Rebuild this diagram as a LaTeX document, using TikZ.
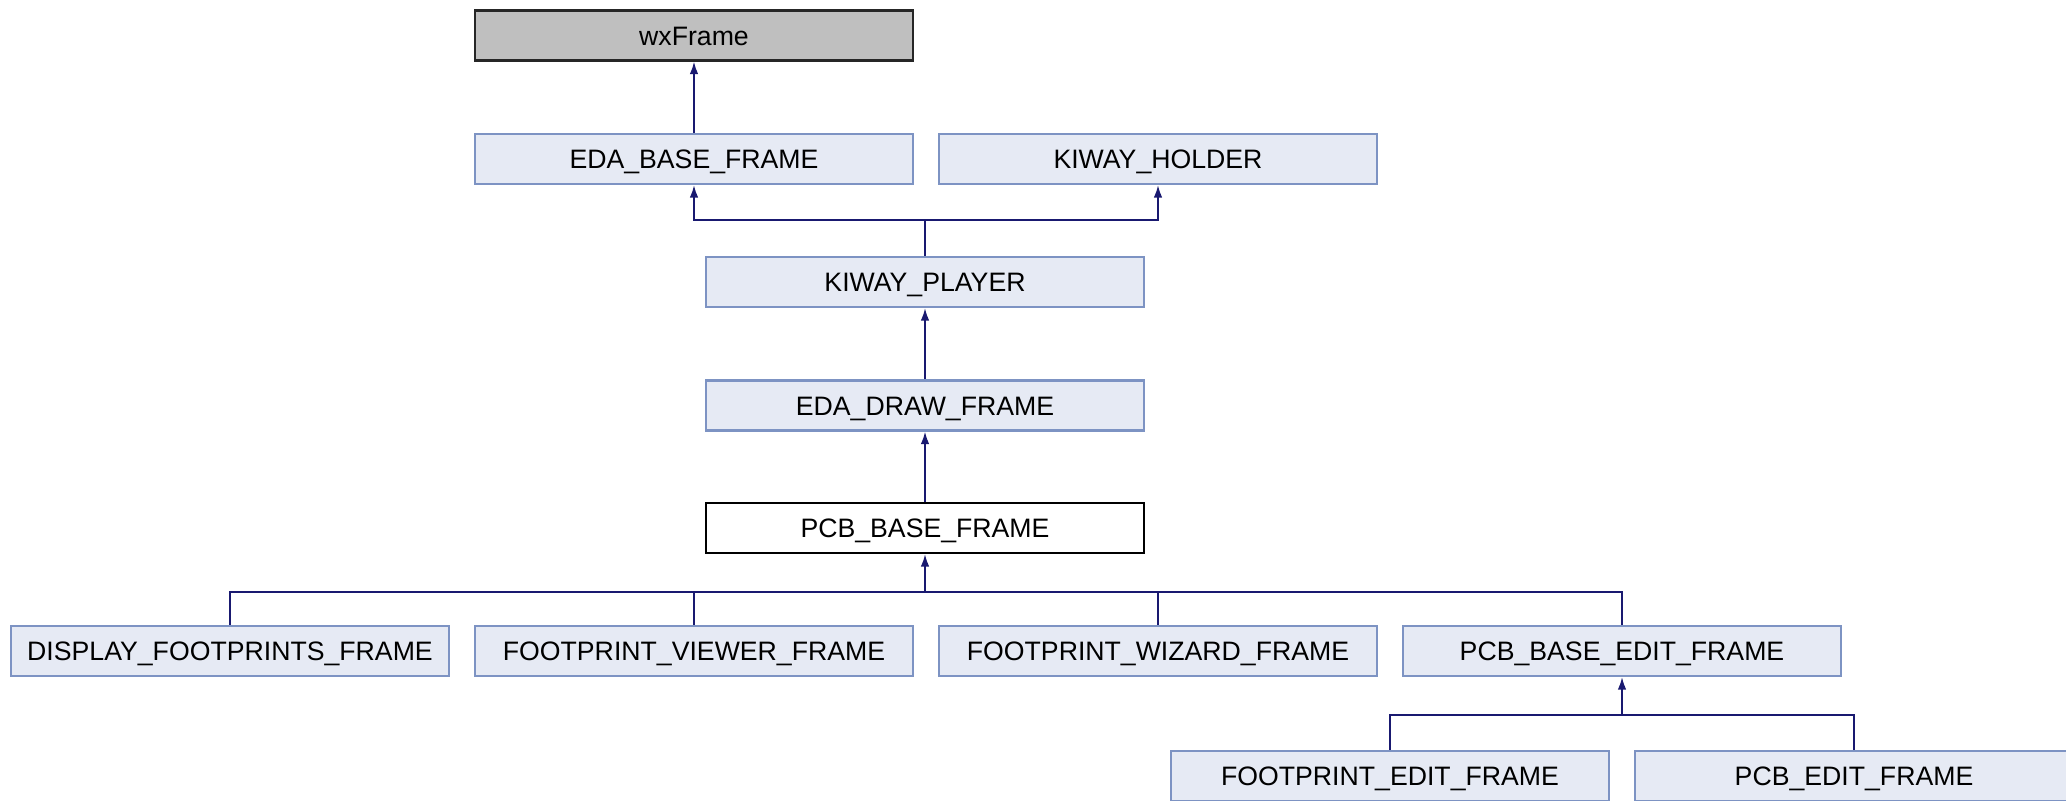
\documentclass[tikz,border=0pt]{standalone}
\usepackage{fontspec}
\setmainfont{Liberation Sans}
\usetikzlibrary{arrows.meta}
\definecolor{nodefill}{HTML}{E6EAF4}
\definecolor{nodeline}{HTML}{7D93C3}
\definecolor{basefill}{HTML}{BFBFBF}
\definecolor{edgecol}{HTML}{191970}
\tikzset{
  cls/.style={rectangle, draw=nodeline, fill=nodefill, line width=1.6pt,
    minimum width=329pt, minimum height=37.5pt, inner sep=0pt,
    text height=14.3pt, text depth=0pt,
    font=\fontsize{20}{24}\selectfont},
  extcls/.style={cls, draw=black!85, fill=basefill},
  curcls/.style={cls, draw=black, fill=white},
  link/.style={draw=edgecol, line width=1.35pt},
  edge/.style={link, {Latex[length=9.5pt,width=6.5pt]}-},
}
\begin{document}
\begin{tikzpicture}[x=0.75pt, y=-0.75pt]
\useasboundingbox (0,0) rectangle (2066,800);
\clip (0,0) rectangle (2066,800);
\fill[white] (0,0) rectangle (2066,800);
% nodes
\node[extcls] (wx) at (694,35.5) {wxFrame};
\node[cls] (eba) at (694,159) {EDA\_BASE\_FRAME};
\node[cls] (kh) at (1158,159) {KIWAY\_HOLDER};
\node[cls] (kp) at (925,282) {KIWAY\_PLAYER};
\node[cls] (edf) at (925,405.5) {EDA\_DRAW\_FRAME};
\node[curcls] (pbf) at (925,528) {PCB\_BASE\_FRAME};
\node[cls] (dff) at (230,651) {DISPLAY\_FOOTPRINTS\_FRAME};
\node[cls] (fvf) at (694,651) {FOOTPRINT\_VIEWER\_FRAME};
\node[cls] (fwf) at (1158,651) {FOOTPRINT\_WIZARD\_FRAME};
\node[cls] (pbef) at (1622,651) {PCB\_BASE\_EDIT\_FRAME};
\node[cls] (fef) at (1390,776) {FOOTPRINT\_EDIT\_FRAME};
\node[cls] (pef) at (1854,776) {PCB\_EDIT\_FRAME};
% junction points
\coordinate (j1) at (925,220);
\coordinate (j2) at (925,592);
\coordinate (j3) at (1622,715);
% edges
\draw[edge] (wx.south) -- (eba.north);
\draw[edge] (eba.south) |- (j1) -- (kp.north);
\draw[edge] (kh.south) |- (j1);
\draw[edge] (kp.south) -- (edf.north);
\draw[edge] (edf.south) -- (pbf.north);
\draw[edge] (pbf.south) -- (j2) -| (dff.north);
\draw[link] (j2) -| (fvf.north);
\draw[link] (j2) -| (fwf.north);
\draw[link] (j2) -| (pbef.north);
\draw[edge] (pbef.south) -- (j3) -| (fef.north);
\draw[link] (j3) -| (pef.north);
\end{tikzpicture}
\end{document}
